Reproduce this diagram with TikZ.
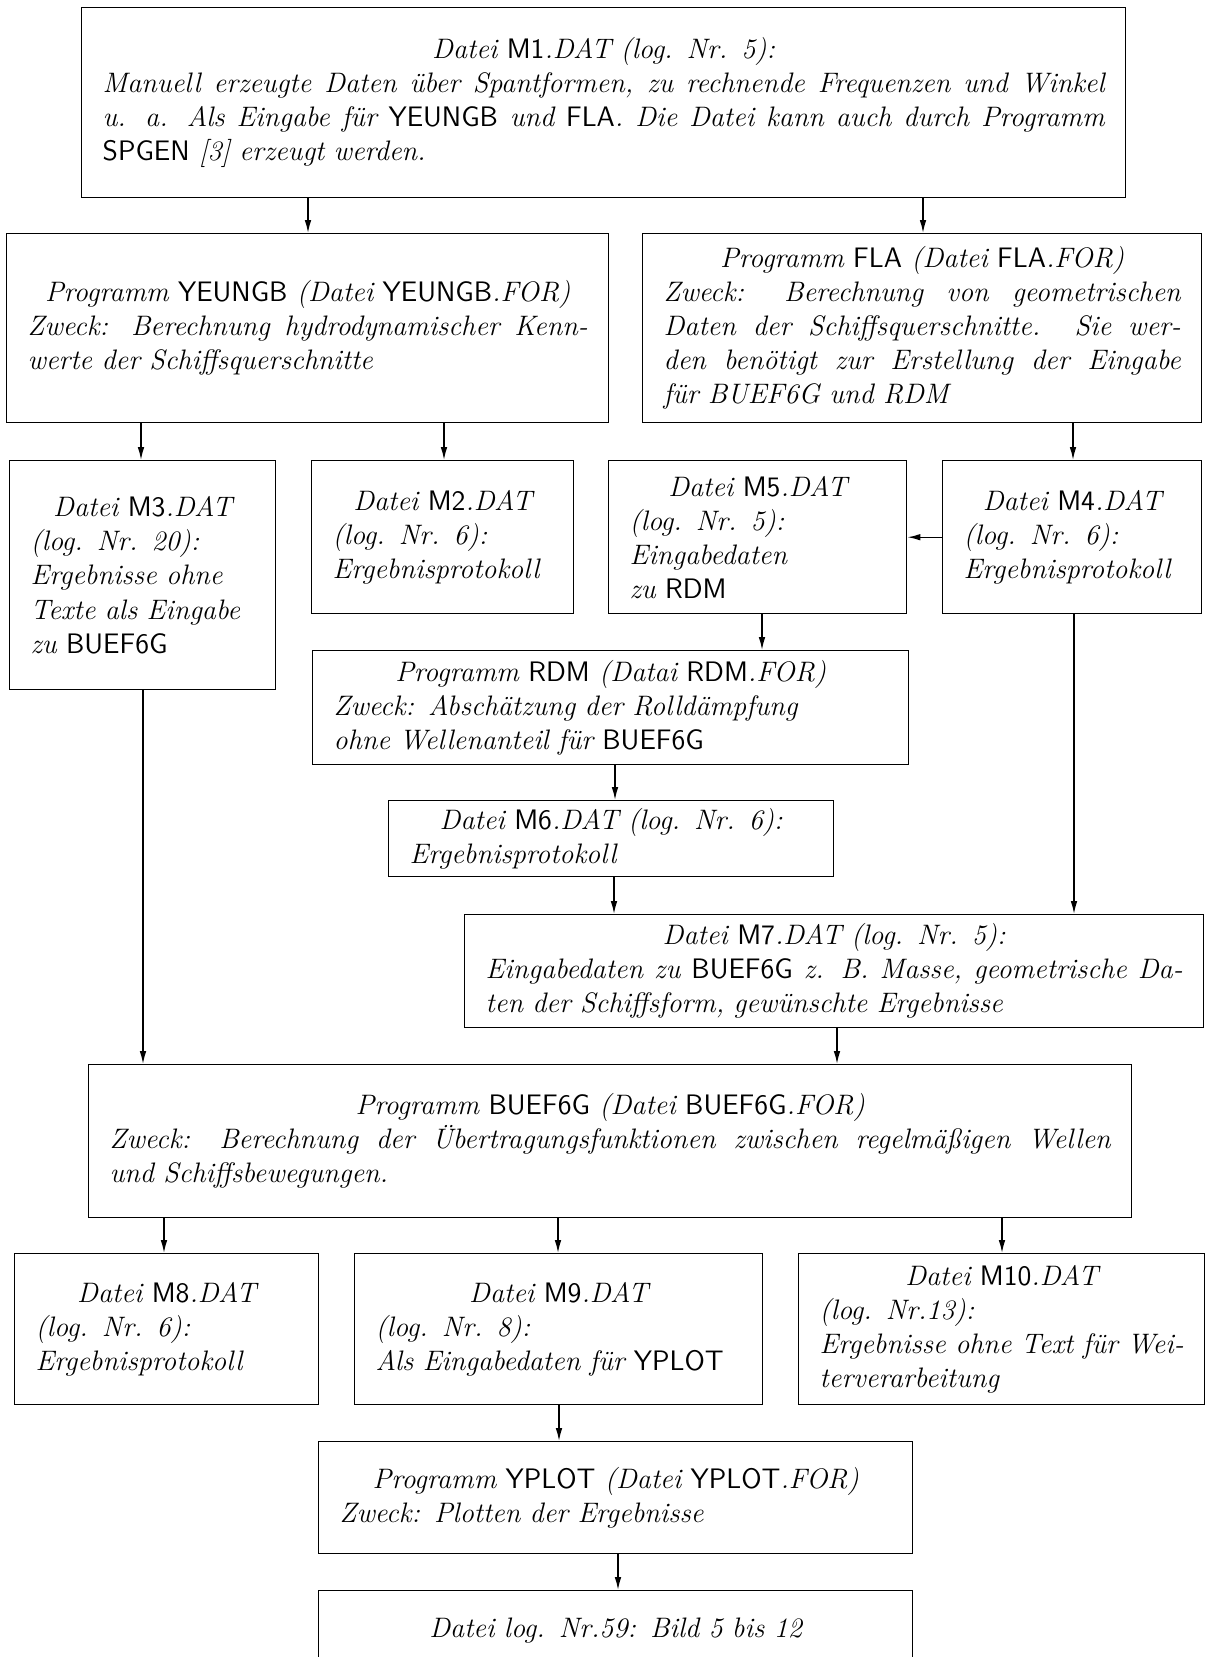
\documentclass[tikz,border=0pt]{standalone}
\usepackage{tikz}
\usetikzlibrary{arrows.meta}

\newcommand{\pxl}{0.426pt}
\newcommand{\sfn}[1]{{\sffamily\upshape #1}}
\newcommand{\hd}[1]{\makebox[\linewidth]{#1}}
\newcommand{\jl}[1]{\makebox[\linewidth][s]{\spaceskip=0pt\xspaceskip=0pt #1}}

\tikzset{
  box/.style 2 args={draw, line width=0.6pt, anchor=north west, inner sep=0pt,
    minimum width={#1*\pxl}, minimum height={#2*\pxl},
    text width={(#1-42)*\pxl}, align=left,
    font=\fontsize{12}{14.5}\selectfont\itshape},
  arr/.style={-{Latex[length=5.5pt,width=2.8pt]}, line width=0.6pt},
}

\begin{document}
\begin{tikzpicture}[x=\pxl, y=-\pxl]
    \useasboundingbox (0,0) rectangle (1205,1657);

    % Input file and first programs
    \node[box={1044}{190}] (m1) at (81,7) {\hd{Datei \sfn{M1}.DAT (log. Nr. 5):}\\
        \jl{Manuell erzeugte Daten über Spantformen, zu rechnende Frequenzen und Winkel}\\
        \jl{u. a. Als Eingabe für \sfn{YEUNGB} und \sfn{FLA}. Die Datei kann auch durch Programm}\\
        \sfn{SPGEN} [3] erzeugt werden.};
    \node[box={602}{189}] (yeungb) at (6,233) {\hd{Programm \sfn{YEUNGB} (Datei \sfn{YEUNGB}.FOR)}\\
        \jl{Zweck: Berechnung hydrodynamischer Kenn-}\\
        werte der Schiffsquerschnitte};
    \node[box={559}{189}] (fla) at (642,233) {\hd{Programm \sfn{FLA} (Datei \sfn{FLA}.FOR)}\\
        \jl{Zweck: Berechnung von geometrischen}\\
        \jl{Daten der Schiffsquerschnitte. Sie wer-}\\
        \jl{den benötigt zur Erstellung der Eingabe}\\
        für BUEF6G und RDM};

    % Result files
    \node[box={266}{229}] (m3) at (9,460) {\hd{Datei \sfn{M3}.DAT}\\
        (log. Nr. 20):\\ Ergebnisse ohne\\ Texte als Eingabe\\ zu \sfn{BUEF6G}};
    \node[box={262}{153}] (m2) at (311,460) {\hd{Datei \sfn{M2}.DAT}\\
        (log. Nr. 6):\\ Ergebnisprotokoll};
    \node[box={298}{153}] (m5) at (608,460) {\hd{Datei \sfn{M5}.DAT}\\
        (log. Nr. 5):\\ Eingabedaten\\ zu \sfn{RDM}};
    \node[box={259}{153}] (m4) at (942,460) {\hd{Datei \sfn{M4}.DAT}\\
        (log. Nr. 6):\\ Ergebnisprotokoll};

    % Roll damping
    \node[box={596}{114}] (rdm) at (312,650) {\hd{Programm \sfn{RDM} (Datai \sfn{RDM}.FOR)}\\
        Zweck: Abschätzung der Rolldämpfung\\
        ohne Wellenanteil für \sfn{BUEF6G}};
    \node[box={445}{76}] (m6) at (388,800) {\hd{Datei \sfn{M6}.DAT (log. Nr. 6):}\\
        Ergebnisprotokoll};
    \node[box={739}{113}] (m7) at (464,914) {\hd{Datei \sfn{M7}.DAT (log. Nr. 5):}\\
        \jl{Eingabedaten zu \sfn{BUEF6G} z. B. Masse, geometrische Da-}\\
        ten der Schiffsform, gewünschte Ergebnisse};

    % Main program
    \node[box={1043}{153}] (buef) at (88,1064) {\hd{Programm \sfn{BUEF6G} (Datei \sfn{BUEF6G}.FOR)}\\
        \jl{Zweck: Berechnung der Übertragungsfunktionen zwischen regelmäßigen Wellen}\\
        und Schiffsbewegungen.};
    \node[box={304}{151}] (m8) at (14,1253) {\hd{Datei \sfn{M8}.DAT}\\
        (log. Nr. 6):\\ Ergebnisprotokoll};
    \node[box={408}{151}] (m9) at (354,1253) {\hd{Datei \sfn{M9}.DAT}\\
        (log. Nr. 8):\\ Als Eingabedaten für \sfn{YPLOT}};
    \node[box={406}{151}] (m10) at (798,1253) {\hd{Datei \sfn{M10}.DAT}\\
        (log. Nr.13):\\ \jl{Ergebnisse ohne Text für Wei-}\\ terverarbeitung};

    % Plot
    \node[box={594}{112}] (yplot) at (318,1441) {\hd{Programm \sfn{YPLOT} (Datei \sfn{YPLOT}.FOR)}\\
        Zweck: Plotten der Ergebnisse};
    \node[box={594}{80}] (fin) at (318,1590) {\hd{Datei log. Nr.59: Bild 5 bis 12}};

    % Arrows
    \foreach \a/\b/\x in {m1/yeungb/308, m1/fla/923, yeungb/m3/141, yeungb/m2/444,
        fla/m4/1073, m5/rdm/762, rdm/m6/615, m6/m7/614, m4/m7/1074, m3/buef/143,
        m7/buef/837, buef/m8/164, buef/m9/558, buef/m10/1002, m9/yplot/559, yplot/fin/618}
        \draw[arr] (\a.south -| \x,0) -- (\b.north -| \x,0);
    \draw[arr] (m4.west) -- (m5.east);
\end{tikzpicture}
\end{document}
